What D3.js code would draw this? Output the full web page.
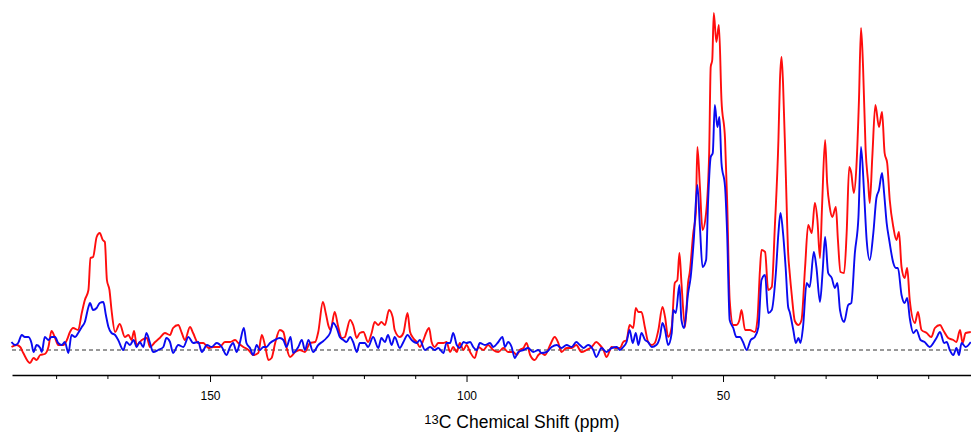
<!DOCTYPE html>
<html>
<head>
<meta charset="utf-8">
<script src="https://cdn.jsdelivr.net/npm/d3@7/dist/d3.min.js"></script>
<style>
  html, body { margin: 0; padding: 0; background: #fff; }
  svg { display: block; }
</style>
</head>
<body>
<svg id="chart" width="971" height="432"></svg>
<script>
// 13C CP-MAS spectra, two samples overlaid (intensity in arbitrary units)
const redShift = [188.7,187.7,187.0,186.4,185.1,184.4,183.8,183.1,182.2,181.5,180.9,180.2,179.6,178.6,177.9,177.3,176.7,175.7,175.0,174.4,173.7,173.3,172.8,172.1,171.5,170.9,170.5,170.1,169.6,169.2,168.5,167.6,166.6,165.9,165.3,164.8,164.3,163.3,162.3,161.7,160.7,159.8,158.8,157.8,157.2,156.2,155.5,154.9,153.9,153.3,152.3,151.3,150.3,149.4,148.1,147.1,146.1,145.1,144.5,143.5,142.5,141.6,140.6,139.9,139.3,138.6,138.0,137.3,136.4,135.7,135.1,134.4,133.4,132.5,131.5,130.5,129.5,128.9,128.0,127.4,126.9,126.5,125.7,125.0,124.3,123.7,123.4,122.7,122.1,121.4,120.8,120.1,119.2,118.5,117.9,117.2,116.6,115.9,115.1,114.4,114.0,113.0,112.3,111.5,111.0,110.4,109.7,109.1,108.4,107.9,107.3,106.8,106.2,105.5,104.5,103.9,103.2,102.6,101.9,101.3,100.6,100.0,99.3,98.4,97.7,96.7,95.8,94.8,93.8,92.8,91.9,90.9,90.2,89.6,88.9,88.3,87.6,86.7,86.0,85.4,84.7,83.7,82.8,82.1,81.5,80.5,79.5,78.6,77.6,76.6,75.6,74.7,74.0,73.3,72.7,71.7,70.7,70.1,69.45,68.8,68.2,67.5,67.0,66.5,65.9,65.2,64.6,63.9,63.3,62.6,61.8,61.3,60.7,60.0,59.4,58.9,58.5,58.1,57.4,56.8,56.5,55.8,55.3,55.0,54.5,54.0,53.3,52.7,52.4,52.1,51.8,51.3,50.8,50.3,49.6,49.2,48.7,48.0,47.4,46.8,46.4,45.7,44.8,43.8,43.3,42.8,42.5,41.8,41.2,40.5,39.9,39.2,38.9,38.6,38.3,37.8,37.3,37.0,36.6,36.0,35.3,34.7,34.0,33.4,32.7,32.1,31.6,31.1,30.7,30.1,29.7,29.2,28.7,28.0,27.6,27.1,26.4,25.9,25.4,25.0,24.5,24.0,23.5,23.1,22.7,22.2,21.7,21.4,20.9,20.3,19.6,19.0,18.5,18.0,17.5,16.8,16.2,15.7,15.2,14.6,14.1,13.6,12.6,12.0,11.3,10.3,9.4,8.7,7.7,7.1,6.1,5.1,4.5,3.8,3.3,2.7,1.7];
const redIntensity = [3,5,3,-3,-13,-8,-10,-5,-4,3,19,12,5,5,10,18,22,20,37,50,60,92,93,113,117,110,108,70,60,40,18,26,13,15,10,19,5,10,12,3,8,12,17,15,22,25,17,10,23,17,7,7,2,3,3,8,8,10,7,3,0,-5,-3,15,5,-10,-8,7,20,18,3,-7,-2,0,-2,7,8,18,48,36,24,20,38,23,12,13,18,30,25,12,17,18,8,17,28,25,28,25,40,33,20,13,17,37,18,12,8,3,10,17,22,8,3,7,7,8,-2,3,-2,7,0,5,-2,-8,3,0,5,0,-2,2,-2,-2,-5,0,2,7,-5,-10,-5,-3,-5,5,13,7,-2,2,2,5,-2,0,3,8,5,0,-7,3,2,2,8,10,25,22,42,38,38,22,8,5,7,20,43,33,13,23,67,70,97,67,23,68,77,117,137,203,163,120,137,197,283,290,337,308,325,250,210,150,50,25,25,30,40,20,20,18,30,80,100,98,60,63,123,210,270,293,267,183,97,77,55,29,25,30,83,125,117,147,130,92,143,210,167,143,133,143,110,78,77,117,183,177,157,183,250,322,283,200,167,147,193,245,223,238,197,187,150,123,110,118,83,72,82,50,27,38,20,17,13,22,25,20,12,10,8,20,7,17,18];

const blueShift = [188.7,188.0,187.4,186.7,186.1,185.4,184.8,184.4,183.8,183.1,182.8,182.2,181.5,180.9,180.2,179.6,178.9,178.3,177.6,177.0,176.3,175.7,175.0,174.4,173.7,173.4,172.8,172.1,171.5,170.8,170.3,169.8,169.2,168.5,167.9,166.9,166.3,165.6,164.9,164.3,163.7,163.0,162.4,161.7,161.1,160.1,159.1,158.5,157.8,157.2,156.2,155.2,154.2,153.3,152.3,151.6,150.6,149.7,148.7,147.7,146.8,146.1,145.5,144.8,144.2,143.4,142.9,142.2,141.6,140.9,140.3,139.6,139.0,138.3,137.4,136.4,135.7,135.1,134.3,133.8,132.8,132.1,131.5,130.8,129.9,128.9,127.9,127.3,126.6,126.0,125.3,124.7,124.0,123.4,122.7,122.1,121.4,120.8,119.8,119.2,118.2,117.2,116.6,115.9,115.3,114.6,114.0,113.0,112.3,111.5,110.7,109.7,109.1,108.1,107.1,106.2,105.5,104.5,103.9,103.2,102.6,101.9,101.3,100.6,100.0,99.3,98.7,98.0,97.4,96.4,95.4,94.8,93.8,93.0,92.5,91.9,91.2,90.6,89.9,88.9,88.0,87.0,86.0,85.4,84.4,83.4,82.4,81.5,80.5,79.5,78.6,77.9,77.2,76.3,75.3,74.7,73.7,72.7,71.7,70.7,70.1,69.45,68.8,68.2,67.6,67.0,66.5,65.9,65.2,64.6,63.9,63.0,62.3,61.8,61.3,60.7,60.0,59.7,59.2,58.5,58.1,57.6,56.8,56.3,55.7,55.0,54.5,54.0,53.3,52.9,52.4,52.0,51.6,51.1,50.7,50.3,49.6,49.2,48.7,48.0,47.4,46.7,46.1,45.4,44.6,43.8,43.1,42.5,41.8,41.2,40.5,39.7,39.2,38.8,38.3,37.8,37.3,37.0,36.3,35.8,35.3,34.9,34.4,33.7,33.1,32.3,31.8,31.1,30.6,30.1,29.5,28.8,28.2,27.7,27.2,26.4,25.6,25.0,24.3,23.6,23.1,22.5,22.0,21.4,20.7,20.1,19.6,19.0,18.6,18.1,17.6,16.8,16.3,15.9,15.2,14.6,14.1,13.6,12.9,12.3,11.5,10.7,9.7,9.0,8.4,7.7,6.9,6.4,5.8,5.1,4.5,4.0,3.5,2.7,1.7];
const blueIntensity = [8,5,7,15,13,13,7,-2,5,2,-2,13,10,13,13,7,5,8,-3,15,13,17,23,28,43,47,40,42,47,48,35,23,17,15,10,0,8,5,10,3,8,3,17,7,-2,0,3,12,8,-3,5,3,13,7,8,-2,5,3,7,3,-5,3,7,-2,7,22,7,2,-5,5,0,3,3,7,10,12,10,3,13,-3,3,10,0,10,-2,5,9,12,17,27,22,13,10,8,13,8,-2,7,7,3,13,2,12,8,15,5,13,2,8,15,10,7,10,0,3,0,2,-3,7,7,17,5,2,8,7,8,3,0,7,5,7,3,8,13,3,8,3,-8,-2,0,2,-2,0,-3,-2,3,5,2,5,3,8,5,2,5,0,-7,2,-2,2,3,0,3,8,20,7,17,5,17,10,8,3,5,13,27,20,5,17,40,37,65,30,22,57,73,110,165,123,83,90,150,193,197,245,223,233,187,163,117,30,22,13,13,8,0,10,13,23,70,75,37,40,77,117,137,117,83,43,38,20,7,12,7,23,67,63,98,83,48,77,113,77,72,62,67,40,28,45,47,97,133,203,157,110,90,117,152,160,177,157,127,110,87,82,82,55,47,52,32,17,20,10,8,3,7,12,18,7,8,0,-5,2,-5,7,3,8];

const majorTicks = [150, 100, 50];
const minorTicks = [180, 170, 160, 140, 130, 120, 110, 90, 80, 70, 60, 40, 30, 20, 10];

const svg = d3.select("#chart");

const x = d3.scaleLinear().domain([188.6, 1.66]).range([12, 971]);
const y = d3.scaleLinear().domain([0, 337]).range([350, 13]);

// zero-intensity reference line
svg.append("line")
  .attr("x1", x.range()[0]).attr("x2", x.range()[1])
  .attr("y1", y(0)).attr("y2", y(0))
  .attr("stroke", "#333").attr("stroke-width", 1)
  .attr("stroke-dasharray", "4,3");

const line = d3.line()
  .x(d => x(d[0]))
  .y(d => y(d[1]))
  .curve(d3.curveMonotoneX);

const redData = redShift.map((s, i) => [s, redIntensity[i]]);
const blueData = blueShift.map((s, i) => [s, blueIntensity[i]]);

svg.append("path")
  .datum(redData)
  .attr("fill", "none")
  .attr("stroke", "#ff0d0d")
  .attr("stroke-width", 1.9)
  .attr("stroke-linejoin", "round")
  .attr("d", line);

svg.append("path")
  .datum(blueData)
  .attr("fill", "none")
  .attr("stroke", "#0a0af0")
  .attr("stroke-width", 1.9)
  .attr("stroke-linejoin", "round")
  .attr("d", line);

// bottom axis: minor ticks every 10 ppm, labelled majors every 50 ppm
const axisY = 375;
svg.append("g")
  .attr("transform", `translate(0,${axisY})`)
  .call(d3.axisBottom(x).tickValues(minorTicks).tickSize(4).tickSizeOuter(0).tickFormat(""))
  .call(g => g.select(".domain").attr("stroke", "#000").attr("stroke-width", 1.3))
  .call(g => g.selectAll(".tick line").attr("stroke", "#000").attr("stroke-width", 1));

svg.append("g")
  .attr("transform", `translate(0,${axisY})`)
  .call(d3.axisBottom(x).tickValues(majorTicks).tickSize(7).tickSizeOuter(0).tickPadding(9))
  .call(g => g.select(".domain").remove())
  .call(g => g.selectAll(".tick line").attr("stroke", "#000").attr("stroke-width", 1))
  .call(g => g.selectAll(".tick text")
    .attr("fill", "#000")
    .style("font-family", "'Liberation Sans', Arial, Helvetica, sans-serif")
    .style("font-size", "12px"));

const title = svg.append("text")
  .attr("x", 522).attr("y", 428)
  .attr("text-anchor", "middle")
  .style("font-family", "'Liberation Sans', Arial, Helvetica, sans-serif")
  .style("font-size", "17.5px")
  .attr("fill", "#000");
title.append("tspan").text("13").style("font-size", "13px").attr("dy", "-4");
title.append("tspan").text("C Chemical Shift (ppm)").attr("dy", "4");
</script>
</body>
</html>
